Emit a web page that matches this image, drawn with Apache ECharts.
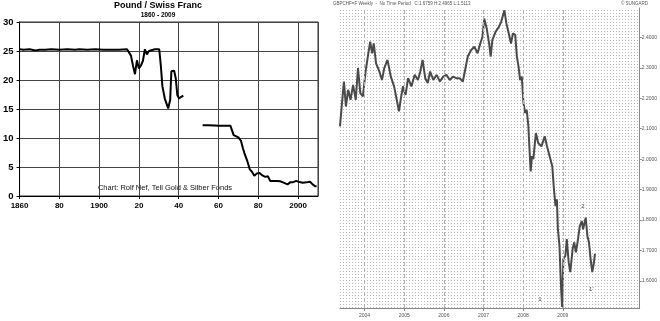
<!DOCTYPE html>
<html>
<head>
<meta charset="utf-8">
<script src="https://cdn.jsdelivr.net/npm/echarts@6/dist/echarts.min.js"></script>
<style>
html,body{margin:0;padding:0;background:#fff;}
#c{width:660px;height:321px;}
</style>
</head>
<body>
<div id="c"></div>
<script>
// ---- Left chart: Pound / Swiss Franc 1860-2009 ----
const leftYears = [1860,1862,1865,1868,1870,1873,1876,1880,1884,1888,1890,1894,1898,1902,1906,1910,1914,1915,1916,1917,1918,1919,1920,1921,1922,1923,1924,1925,1926,1928,1929,1930.2,1931,1931.8,1933,1934.7,1935.7,1936.3,1937.7,1938.5,1939.3,1940.2,1941.3,1942.3,
  1947,
  1952,1955,1958,1960,1963,1966,1967,1967.6,1968.5,1970,1971.3,1972.3,1973,1974.3,1975.7,1976.8,1978,1979.3,1980.7,1981.8,1983.5,1984.8,1986,1987.7,1989.3,1991,1992.7,1994.7,1996,1997.3,1999,2000.7,2002.3,2004.3,2006,2007.3,2008.5,2009.3];
const leftValues = [25.3,25.2,25.3,25.1,25.2,25.2,25.3,25.2,25.3,25.2,25.3,25.2,25.3,25.2,25.2,25.2,25.3,25.4,24.2,22.5,21.0,23.4,22.0,22.5,23.3,25.3,24.4,25.0,25.2,25.3,25.2,25.3,22.5,18.9,16.8,15.1,16.6,21.5,21.6,20.3,17.4,16.8,17.1,17.3,
  null,
  12.2,12.2,12.15,12.1,12.1,12.1,11.9,10.5,10.3,10.1,9.5,8.2,7.4,6.2,4.6,4.2,3.5,3.9,3.95,3.6,3.3,3.4,2.6,2.6,2.6,2.55,2.3,2.0,2.35,2.35,2.6,2.4,2.3,2.35,2.45,2.0,1.7,1.7];
const leftYTicks = [0,5,10,15,20,25,30];

// ---- Right chart: GBPCHF weekly 2003-2009 ----
const rightYears = [2003.380,2003.422,2003.479,2003.529,2003.586,2003.646,2003.710,2003.777,2003.834,2003.893,2003.958,
  2004.025,2004.082,2004.141,2004.191,2004.231,2004.290,2004.372,2004.439,2004.496,2004.578,2004.662,2004.744,2004.811,2004.868,2004.910,2004.967,
  2005.034,2005.098,2005.182,2005.264,2005.346,2005.406,2005.463,2005.530,2005.594,2005.653,2005.735,2005.817,2005.901,2005.983,
  2006.065,2006.149,2006.231,2006.313,2006.397,2006.479,2006.536,2006.603,2006.685,2006.769,2006.851,2006.918,2006.975,
  2007.017,2007.081,2007.141,2007.180,2007.223,2007.304,2007.389,2007.446,2007.527,2007.577,2007.637,2007.694,2007.743,2007.800,2007.842,2007.884,2007.924,2007.966,
  2008.008,2008.048,2008.090,2008.132,2008.157,2008.190,2008.220,2008.257,2008.321,2008.380,2008.462,2008.544,2008.603,2008.668,2008.735,2008.777,2008.817,2008.851,2008.876,2008.916,2008.958,2008.983,
  2009.015,2009.065,2009.100,2009.149,2009.189,2009.248,2009.288,2009.330,2009.372,2009.429,2009.479,2009.511,2009.578,2009.620,2009.660,2009.702,2009.744,2009.786,2009.811];
const rightClose = [2.108,2.173,2.255,2.173,2.228,2.195,2.244,2.195,2.299,2.217,2.206,
  2.288,2.337,2.386,2.348,2.380,2.315,2.288,2.260,2.299,2.326,2.271,2.239,2.195,2.157,2.195,2.239,
  2.211,2.266,2.239,2.277,2.260,2.288,2.326,2.266,2.250,2.288,2.260,2.277,2.255,2.271,
  2.277,2.260,2.271,2.266,2.266,2.255,2.293,2.337,2.358,2.369,2.348,2.380,2.402,
  2.462,2.429,2.380,2.337,2.391,2.418,2.435,2.451,2.489,2.446,2.413,2.380,2.413,2.408,2.337,2.304,2.260,2.271,
  2.184,2.152,2.162,2.108,2.040,1.960,2.010,2.000,2.086,2.053,2.042,2.075,2.042,2.010,1.977,1.901,1.846,1.868,1.770,1.716,1.574,1.515,
  1.672,1.683,1.738,1.661,1.629,1.705,1.727,1.694,1.727,1.781,1.797,1.770,1.808,1.748,1.727,1.672,1.629,1.661,1.689];
const rightYTicks = [1.6,1.7,1.8,1.9,2.0,2.1,2.2,2.3,2.4];
const rightXTicks = [2004,2005,2006,2007,2008,2009];
const waveLabels = [{t:'1', x:2008.42, y:1.54},{t:'2', x:2009.51, y:1.845},{t:"1'", x:2009.72, y:1.572}];

// dotted background pattern
const pc = document.createElement('canvas');
pc.width = 3; pc.height = 3;
const pctx = pc.getContext('2d');
pctx.fillStyle = '#ffffff'; pctx.fillRect(0,0,3,3);
pctx.fillStyle = '#b8b8b8'; pctx.fillRect(1,1,1,1);

const chart = echarts.init(document.getElementById('c'), null, {renderer:'canvas'});
const FONT = '"Liberation Sans", Arial, sans-serif';

chart.setOption({
  animation: false,
  backgroundColor: '#fff',
  grid: [
    {left:18, top:22, width:300, height:174, show:true, borderColor:'#333', borderWidth:1, backgroundColor:'#fff'},
    {left:340, top:8, width:305, height:300, show:true, borderWidth:0, backgroundColor:{image:pc, repeat:'repeat'}}
  ],
  xAxis: [
    {type:'value', gridIndex:0, min:1860, max:2010, interval:20,
     axisLine:{lineStyle:{color:'#000', width:1}}, axisTick:{show:true, length:3, lineStyle:{color:'#000'}},
     splitLine:{show:true, lineStyle:{color:'#444', width:1}},
     axisLabel:{showMaxLabel:false, fontFamily:FONT, fontWeight:'bold', fontSize:8, color:'#000', margin:6,
       formatter: v => (v===1860 || v%100===0) ? String(v) : String(v%100).padStart(2,'0')}},
    {type:'value', gridIndex:1, min:2003.38, max:2010.94,
     axisLine:{lineStyle:{color:'#888', width:1}},
     axisTick:{show:true, length:3, customValues:rightXTicks, lineStyle:{color:'#888'}},
     splitLine:{show:false},
     axisLabel:{customValues:rightXTicks, fontFamily:FONT, fontSize:5, color:'#555', margin:5, formatter: v => String(Math.round(v))}}
  ],
  yAxis: [
    {type:'value', gridIndex:0, min:0, max:30, interval:5,
     axisLine:{show:true, lineStyle:{color:'#000', width:1}}, axisTick:{show:true, length:3, lineStyle:{color:'#000'}},
     splitLine:{show:true, lineStyle:{color:'#444', width:1}},
     axisLabel:{fontFamily:FONT, fontWeight:'bold', fontSize:9.5, color:'#000', margin:6}},
    {type:'value', gridIndex:1, position:'right', min:1.5113, max:2.4965,
     axisLine:{show:true, lineStyle:{color:'#888', width:1}},
     axisTick:{show:true, length:2, customValues:rightYTicks, lineStyle:{color:'#888'}},
     splitLine:{show:false},
     axisLabel:{customValues:rightYTicks, fontFamily:FONT, fontSize:5, color:'#555', margin:2, formatter: v => v.toFixed(4)}}
  ],
  series: [
    {type:'line', xAxisIndex:0, yAxisIndex:0, showSymbol:false, connectNulls:false,
     data: leftYears.map((y,i) => [y, leftValues[i] === null ? '-' : leftValues[i]]),
     lineStyle:{color:'#000', width:2}, itemStyle:{color:'#000'}},
    {type:'line', xAxisIndex:1, yAxisIndex:1, showSymbol:false,
     data: rightYears.map((y,i) => [y, rightClose[i]]),
     lineStyle:{color:'#4a4a4a', width:2}, itemStyle:{color:'#4a4a4a'},
     markLine:{silent:true, symbol:'none', label:{show:false},
       lineStyle:{color:'#b0b0b0', type:'dashed', width:1},
       data: rightXTicks.map(v => ({xAxis:v}))},
     markPoint:{silent:true, symbol:'circle', symbolSize:0,
       label:{show:true, position:'inside', fontFamily:FONT, fontSize:6, color:'#444', formatter: p => p.name},
       data: waveLabels.map(w => ({name:w.t, coord:[w.x, w.y]}))}}
  ],
  graphic: [
    {type:'text', style:{text:'Pound / Swiss Franc', x:158, y:6, textAlign:'center', textVerticalAlign:'middle', font:'bold 9px '+FONT, fill:'#000'}},
    {type:'text', style:{text:'1860 - 2009', x:158, y:15.5, textAlign:'center', textVerticalAlign:'middle', font:'bold 6.5px '+FONT, fill:'#000'}},
    {type:'text', style:{text:'Chart: Rolf Nef, Tell Gold & Silber Fonds', x:165, y:187.5, textAlign:'center', textVerticalAlign:'middle', font:'7.5px '+FONT, fill:'#111'}},
    {type:'text', style:{text:'GBPCHF=F Weekly  -  No Time Period   C:1.6759 H:2.4965 L:1.5113', x:333, y:4, textAlign:'left', textVerticalAlign:'middle', font:'4.5px '+FONT, fill:'#555'}},
    {type:'text', style:{text:'\u00A9 SUNGARD', x:648, y:4, textAlign:'right', textVerticalAlign:'middle', font:'4.5px '+FONT, fill:'#555'}}
  ]
});
</script>
</body>
</html>
